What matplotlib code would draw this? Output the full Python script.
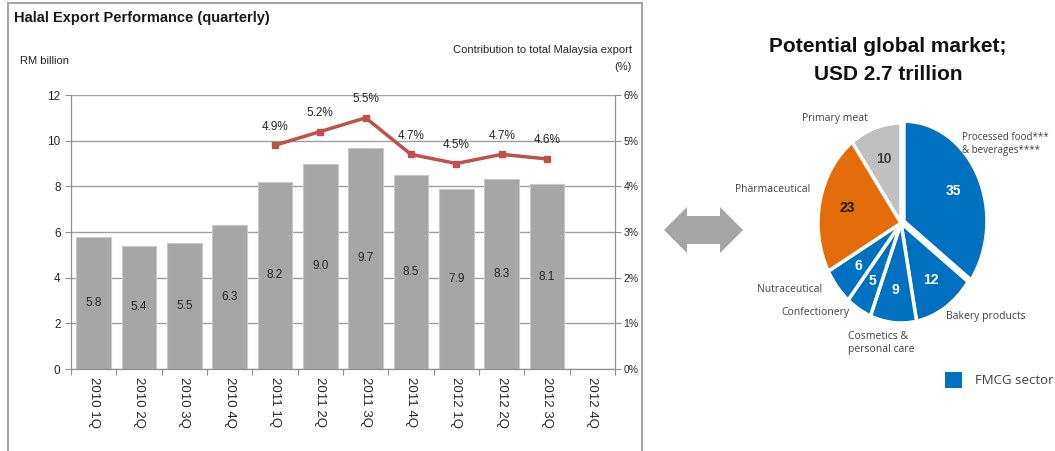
import matplotlib.pyplot as plt
from matplotlib.patches import Polygon, Rectangle

quarters = ['2010 1Q', '2010 2Q', '2010 3Q', '2010 4Q', '2011 1Q', '2011 2Q',
            '2011 3Q', '2011 4Q', '2012 1Q', '2012 2Q', '2012 3Q', '2012 4Q']
export_rm = [5.8, 5.4, 5.5, 6.3, 8.2, 9.0, 9.7, 8.5, 7.9, 8.3, 8.1]
share_quarters = ['2011 1Q', '2011 2Q', '2011 3Q', '2011 4Q', '2012 1Q', '2012 2Q', '2012 3Q']
share_pct = [4.9, 5.2, 5.5, 4.7, 4.5, 4.7, 4.6]

segments = ['Processed food***\n& beverages****', 'Bakery products', 'Cosmetics &\npersonal care',
            'Confectionery', 'Nutraceutical', 'Pharmaceutical', 'Primary meat']
seg_values = [35, 12, 9, 5, 6, 23, 10]
seg_colors = ['#0070c0', '#0070c0', '#0070c0', '#0070c0', '#0070c0', '#e46c0a', '#c0c0c0']
seg_text = ['white', 'white', 'white', 'white', 'white', '#1a1a1a', '#404040']

W, H = 1055, 451
narrow = ['Liberation Sans Narrow', 'Liberation Sans', 'DejaVu Sans']
fig = plt.figure(figsize=(W / 100, H / 100), dpi=100)


def fx(px):
    return px / W


def fy(py):
    return 1 - py / H


# frame of the left panel
fig.add_artist(Rectangle((fx(8), fy(460)), fx(634), 457 / H, transform=fig.transFigure,
                         fill=False, ec='#a6a6a6', lw=1.5))

ax = fig.add_axes([fx(71), fy(369), fx(615) - fx(71), fy(95) - fy(369)])
x = list(range(len(quarters)))
bars = ax.bar(x[:len(export_rm)], export_rm, width=0.77, color='#a6a6a6',
              edgecolor='#c8c8c8', lw=0.8, zorder=2)
ax.bar_label(bars, labels=['%.1f' % v for v in export_rm], label_type='center',
             fontsize=8.5, color='#262626', family=narrow)
ax.set_xlim(-0.5, len(quarters) - 0.5)
ax.set_ylim(0, 12)
ax.set_yticks(range(0, 13, 2))
ax.yaxis.grid(True, color='#a0a0a0', lw=1, zorder=0)
ax.set_xticks([i - 0.5 for i in range(len(quarters) + 1)])
ax.set_xticklabels([])
ax.set_xticks(x, minor=True)
ax.set_xticklabels(quarters, minor=True, rotation=-90, fontsize=9.5, family=narrow, color='#262626')
ax.tick_params(axis='x', which='minor', length=0, pad=6)
ax.tick_params(axis='x', which='major', length=4, color='#909090', direction='out')
ax.tick_params(axis='y', length=4, color='#909090', labelsize=8.5, labelcolor='#262626')
for lab in ax.get_yticklabels():
    lab.set_family(narrow)
ax.spines['top'].set_visible(False)
for s in ['left', 'bottom', 'right']:
    ax.spines[s].set_color('#909090')

ax2 = ax.twinx()
xs = [quarters.index(q) for q in share_quarters]
ax2.plot(xs, share_pct, color='#c0504d', lw=2.5, marker='s', ms=5, zorder=3)
for xi, v in zip(xs, share_pct):
    ax2.annotate('%.1f%%' % v, (xi, v), xytext=(0, 9), textcoords='offset points',
                 ha='center', va='bottom', fontsize=8.5, color='#262626', family=narrow)
ax2.set_ylim(0, 6)
ax2.set_yticks(range(0, 7))
ax2.set_yticklabels(['%d%%' % v for v in range(0, 7)], family=narrow)
ax2.tick_params(axis='y', length=4, pad=2, color='#909090', labelsize=7.5, labelcolor='#262626')
ax2.spines['top'].set_visible(False)
for s in ['left', 'bottom', 'right']:
    ax2.spines[s].set_color('#909090')

fig.text(fx(14), fy(18), 'Halal Export Performance (quarterly)', fontsize=10.5, fontweight='bold',
         family=narrow, va='center', color='#1a1a1a')
fig.text(fx(20), fy(61), 'RM billion', fontsize=8, family=narrow, va='center', color='#262626')
fig.text(fx(632), fy(50), 'Contribution to total Malaysia export', fontsize=8, family=narrow,
         va='center', ha='right', color='#262626')
fig.text(fx(632), fy(67), '(%)', fontsize=8, family=narrow, va='center', ha='right', color='#262626')

# double arrow between panels
arrow = [(664, 230), (687, 207), (687, 216), (720, 216), (720, 207), (743, 230),
         (720, 253), (720, 244), (687, 244), (687, 253)]
fig.add_artist(Polygon([(fx(a), fy(b)) for a, b in arrow], closed=True, transform=fig.transFigure,
                       fc='#a6a6a6', ec='none'))

# pie
cx, cy, rx, ry = 901, 223, 83, 100
pax = fig.add_axes([fx(cx - 1.2 * rx), fy(cy + 1.2 * ry), 2.4 * rx / W, 2.4 * ry / H])
explode = [0.04, 0, 0, 0, 0, 0, 0]
wedges, texts = pax.pie(seg_values, colors=seg_colors, startangle=90, counterclock=False,
                        explode=explode, labels=[str(v) for v in seg_values], labeldistance=0.67,
                        wedgeprops=dict(edgecolor='white', linewidth=2.5),
                        textprops=dict(fontsize=10, fontweight='bold', family=['Liberation Sans']))
for t, c in zip(texts, seg_text):
    t.set_color(c)
    t.set_ha('center')
    t.set_va('center')
pax.set_aspect('auto')
pax.set_xlim(-1.2, 1.2)
pax.set_ylim(-1.2, 1.2)
pax.axis('off')

fig.text(fx(888), fy(47), 'Potential global market;', fontsize=15, fontweight='bold',
         family=['Liberation Sans'], ha='center', va='center', color='#111111')
fig.text(fx(888), fy(75), 'USD 2.7 trillion', fontsize=15, fontweight='bold',
         family=['Liberation Sans'], ha='center', va='center', color='#111111')

lab_font = dict(fontsize=7.5, family=['Open Sans', 'DejaVu Sans'], color='#404040')
label_pos = [(962, 144, 7.0), (946, 317, 7.5), (848, 343, 7.5), (781, 312, 7.5),
             (757, 290, 7.5), (735, 190, 7.5), (802, 118, 7.5)]
for name, (lx, ly, fs) in zip(segments, label_pos):
    fig.text(fx(lx), fy(ly), name, ha='left', va='center', linespacing=1.3,
             fontsize=fs, family=['Open Sans', 'DejaVu Sans'], color='#404040')

fig.add_artist(Rectangle((fx(945), fy(388)), 17 / W, 16 / H, transform=fig.transFigure,
                         fc='#0070c0', ec='none'))
fig.text(fx(975), fy(381), 'FMCG sector', fontsize=9.5, family=['Open Sans', 'DejaVu Sans'],
         color='#404040', va='center')

fig.savefig('out.png', dpi=100)
